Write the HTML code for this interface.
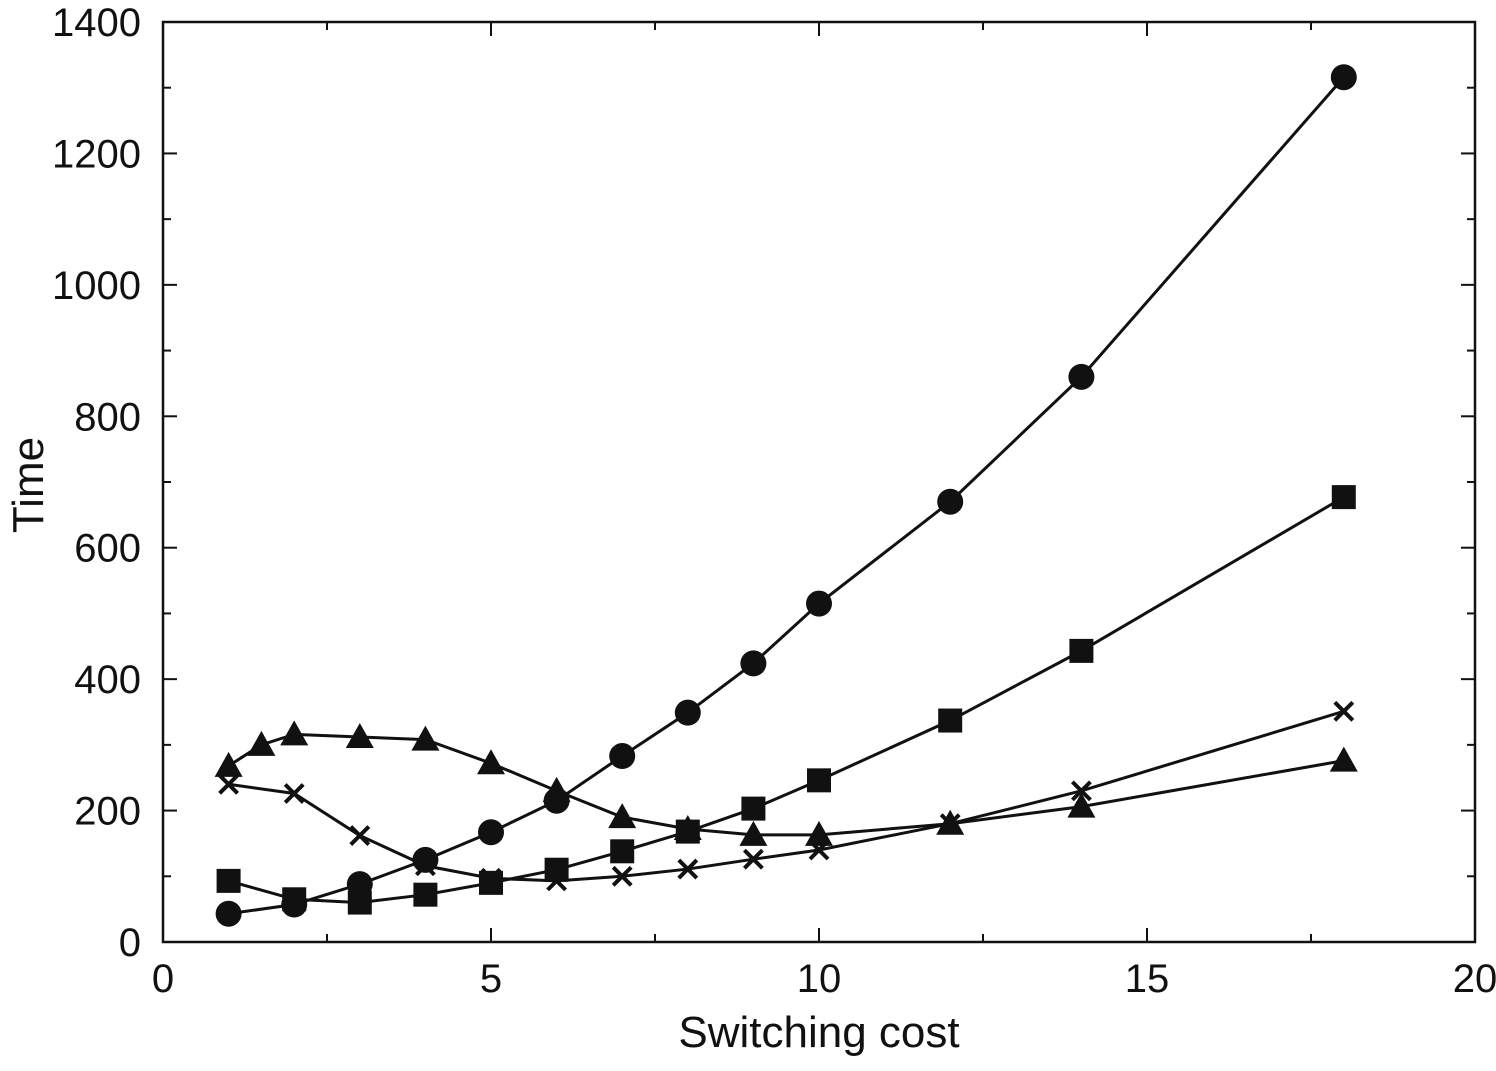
<!DOCTYPE html>
<html><head><meta charset="utf-8"><style>
body{margin:0;background:#fff;}
svg{display:block;font-family:"Liberation Sans",sans-serif;}
</style></head><body>
<svg id="chart" width="1496" height="1071" viewBox="0 0 1496 1071" xmlns="http://www.w3.org/2000/svg"></svg>
<script>
const xTicks=[0,5,10,15,20];
const yTicks=[0,200,400,600,800,1000,1200,1400];
const circleX=[1,2,3,4,5,6,7,8,9,10,12,14,18];
const circleY=[43,57,88,125,167,215,283,349,424,515,670,860,1316];
const squareX=[1,2,3,4,5,6,7,8,9,10,12,14,18];
const squareY=[93,65,60,72,90,110,138,168,203,246,337,443,677];
const crossX=[1,2,3,4,5,6,7,8,9,10,12,14,18];
const crossY=[240,226,162,116,97,93,100,111,126,140,180,230,351];
const triX=[1,1.5,2,3,4,5,6,7,8,9,10,12,14,18];
const triY=[268,300,316,312,308,272,230,190,172,163,163,180,206,276];

const L=163,R=1475,T=22,B=942;
const sx=v=>L+(v-0)/20*(R-L);
const sy=v=>B-(v-0)/1400*(B-T);
const svg=document.getElementById('chart');
const NS='http://www.w3.org/2000/svg';
function mk(tag,attrs,parent){const e=document.createElementNS(NS,tag);for(const k in attrs)e.setAttribute(k,attrs[k]);(parent||svg).appendChild(e);return e;}

const frame=mk('rect',{x:L,y:T,width:R-L,height:B-T,fill:'none',stroke:'#111','stroke-width':2.5});



for(let v=0;v<=20;v+=2.5){
  const major=v%5===0,len=major?14:8,x=sx(v);
  const t1=mk('line',{x1:x,y1:B,x2:x,y2:B-len,stroke:'#111','stroke-width':2});
  
  
  const t2=mk('line',{x1:x,y1:T,x2:x,y2:T+len,stroke:'#111','stroke-width':2});
  
  
}
xTicks.forEach(v=>{
  const t=mk('text',{x:sx(v),y:B+50,'text-anchor':'middle','font-size':40,fill:'#111'});
  t.textContent=v;
  
  
});
for(let v=0;v<=1400;v+=100){
  const major=v%200===0,len=major?14:8,y=sy(v);
  const t1=mk('line',{x1:L,y1:y,x2:L+len,y2:y,stroke:'#111','stroke-width':2});
  
  
  const t2=mk('line',{x1:R,y1:y,x2:R-len,y2:y,stroke:'#111','stroke-width':2});
  
  
}
yTicks.forEach(v=>{
  const t=mk('text',{x:L-22,y:sy(v)+14,'text-anchor':'end','font-size':40,fill:'#111'});
  t.textContent=v;
  
  
});
const xt=mk('text',{x:(L+R)/2,y:1047,'text-anchor':'middle','font-size':44,fill:'#111'});
xt.textContent='Switching cost';


const yt=mk('text',{x:0,y:0,'text-anchor':'middle','font-size':44,fill:'#111',transform:`translate(43,${(T+B)/2+3}) rotate(-90)`});
yt.textContent='Time';



function series(xs,ys,name,marker){
  const g=mk('g',{});
  
  
  const pts=xs.map((x,i)=>sx(x)+','+sy(ys[i])).join(' ');
  mk('polyline',{points:pts,fill:'none',stroke:'#111','stroke-width':3},g);
  xs.forEach((x,i)=>{
    const cx=sx(x),cy=sy(ys[i]);let m;
    if(marker==='circle')m=mk('circle',{cx,cy,r:13,fill:'#111'},g);
    else if(marker==='square')m=mk('rect',{x:cx-12,y:cy-12,width:24,height:24,fill:'#111'},g);
    else if(marker==='tri')m=mk('polygon',{points:`${cx},${cy-14} ${cx-14},${cy+11} ${cx+14},${cy+11}`,fill:'#111'},g);
    else m=mk('path',{d:`M${cx-9},${cy-9}L${cx+9},${cy+9}M${cx-9},${cy+9}L${cx+9},${cy-9}`,stroke:'#111','stroke-width':4},g);
    
    
  });
}
series(triX,triY,'triangle-series','tri');
series(crossX,crossY,'cross-series','cross');
series(squareX,squareY,'square-series','square');
series(circleX,circleY,'circle-series','circle');
</script>
</body></html>
